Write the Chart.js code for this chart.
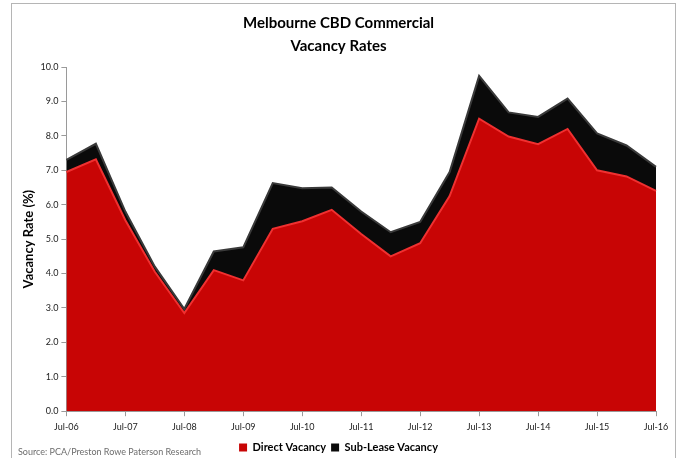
<!DOCTYPE html>
<html>
<head>
<meta charset="utf-8">
<script src="https://cdn.jsdelivr.net/npm/chart.js@4.4.1/dist/chart.umd.min.js"></script>
<style>
  html, body { margin: 0; padding: 0; background: #fff; overflow: hidden; }
  #wrap { position: relative; width: 680px; height: 458px; overflow: hidden; }
  #frame { position: absolute; left: 11px; top: 3px; width: 663px; height: 470px; border: 1px solid #b5b5b5; }
  #chart { position: absolute; left: 0; top: 0; }
  #source { position: absolute; left: 18px; top: 446px; font: 9px Lato, sans-serif; color: #6d6d6d; }
</style>
</head>
<body>
<div id="wrap">
  <div id="frame"></div>
  <canvas id="chart" width="680" height="463"></canvas>
  <div id="source">Source: PCA/Preston Rowe Paterson Research</div>
</div>
<script>
// half-yearly periods, July 2006 to July 2016
var periods = [
  "Jul-06", "Jan-07", "Jul-07", "Jan-08", "Jul-08", "Jan-09", "Jul-09",
  "Jan-10", "Jul-10", "Jan-11", "Jul-11", "Jan-12", "Jul-12", "Jan-13",
  "Jul-13", "Jan-14", "Jul-14", "Jan-15", "Jul-15", "Jan-16", "Jul-16",
];
var directVacancy = [
  6.95, 7.32, 5.55, 4.05, 2.85, 4.1, 3.8, 5.3, 5.52, 5.85, 5.15,
  4.5, 4.88, 6.25, 8.5, 7.98, 7.76, 8.2, 7.0, 6.82, 6.4,
];
var subLeaseVacancy = [
  0.35, 0.45, 0.25, 0.15, 0.12, 0.54, 0.96, 1.33, 0.96, 0.65, 0.65,
  0.7, 0.62, 0.7, 1.24, 0.7, 0.79, 0.88, 1.07, 0.9, 0.7,
];

var fontFamily = "Lato, 'Liberation Sans', sans-serif";
var axisGrey = "#9a9a9a";

var ctx = document.getElementById("chart").getContext("2d");

var myChart = new Chart(ctx, {
  type: "line",
  data: {
    labels: periods,
    datasets: [
      {
        label: "Direct Vacancy",
        data: directVacancy,
        backgroundColor: "#c80505",
        borderColor: "#f03030",
        borderWidth: 2,
        fill: "origin",
        pointRadius: 0,
        tension: 0,
      },
      {
        label: "Sub-Lease Vacancy",
        data: subLeaseVacancy,
        backgroundColor: "#0a0a0a",
        borderColor: "#3a3a3a",
        borderWidth: 2,
        fill: "-1",
        pointRadius: 0,
        tension: 0,
      },
    ],
  },
  options: {
    responsive: false,
    animation: false,
    layout: { padding: { left: 21, right: 24, top: 10, bottom: 0 } },
    plugins: {
      title: {
        display: true,
        text: ["Melbourne CBD Commercial", "Vacancy Rates"],
        color: "#000",
        font: { family: fontFamily, size: 15, weight: "bold", lineHeight: 1.5 },
        padding: { top: 2, bottom: 10 },
      },
      legend: {
        position: "bottom",
        labels: {
          boxWidth: 8,
          boxHeight: 8,
          color: "#000",
          font: { family: fontFamily, size: 11, weight: "bold" },
          padding: 5,
          generateLabels: function (chart) {
            return chart.data.datasets.map(function (ds, i) {
              return {
                text: ds.label,
                fillStyle: ds.backgroundColor,
                strokeStyle: ds.backgroundColor,
                lineWidth: 0,
                datasetIndex: i,
              };
            });
          },
        },
      },
      tooltip: { enabled: false },
    },
    scales: {
      x: {
        offset: false,
        grid: {
          drawOnChartArea: false,
          tickLength: 5,
          color: function (c) {
            return c.index % 2 ? "rgba(0,0,0,0)" : axisGrey;
          },
        },
        border: { color: axisGrey },
        ticks: {
          autoSkip: false,
          maxRotation: 0,
          color: "#222",
          font: { family: fontFamily, size: 9 },
          padding: 5,
          callback: function (v, i) {
            return i % 2 ? "" : periods[i];
          },
        },
      },
      y: {
        stacked: true,
        min: 0,
        max: 10,
        grid: { drawOnChartArea: false, tickLength: 5, color: axisGrey },
        border: { color: axisGrey },
        ticks: {
          stepSize: 1,
          color: "#222",
          font: { family: fontFamily, size: 9 },
          padding: 3,
          callback: function (v) {
            return v.toFixed(1);
          },
        },
        title: {
          display: true,
          text: "Vacancy Rate (%)",
          color: "#000",
          font: { family: fontFamily, size: 13, weight: "bold" },
          padding: { top: 0, bottom: 1 },
        },
      },
    },
  },
});
</script>
</body>
</html>
